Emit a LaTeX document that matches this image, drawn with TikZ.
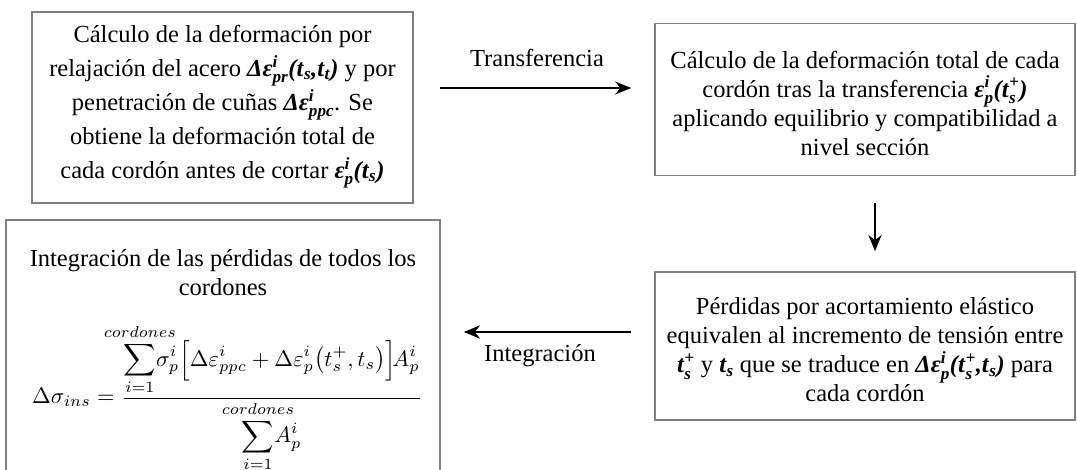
\documentclass[tikz,border=0pt]{standalone}
\usepackage{amsmath}
\usepackage{graphicx}
\usepackage{fontspec}
\setmainfont{Liberation Serif}
\usetikzlibrary{arrows.meta,calc}
\definecolor{boxgray}{RGB}{128,128,128}
\newcommand{\bi}[1]{\textbf{\textit{#1}}}
\newcommand{\ssup}[2]{$^{\bi{#1}}_{\bi{#2}}$}
\newcommand{\lsub}[1]{$_{\bi{#1}}$}
\newcommand{\lsubsup}[2]{$_{\bi{#1}}^{\bi{#2}}$}
\newcommand{\clapcord}{\makebox[0pt]{$\scriptstyle cordones$}}
\begin{document}
\begin{tikzpicture}[x=1pt,y=-1pt,
  box/.style={draw=boxgray, line width=1.6pt, inner sep=0pt},
  txt/.style={align=center, inner sep=0pt, font=\fontsize{24.5}{29}\selectfont},
  arr/.style={line width=2.4pt, -{Stealth[length=16pt,width=13pt,inset=5pt]}},
  lbl/.style={font=\fontsize{24.5}{29}\selectfont, align=center, inner sep=0pt}]
\clip (0,0) rectangle (1077,470);
\fill[white] (0,0) rectangle (1077,470);

% top left
\node[box, minimum width=381pt, minimum height=191pt] (box1) at (222.5,107.5) {};
\node[txt, font=\fontsize{24.5}{34}\selectfont] (t1) at (222.5,106.5)
{Cálculo de la deformación por\\
relajación del acero \bi{Δε}\ssup{i}{pr}\bi{(t}\lsub{s}\bi{,t}\lsub{t}\bi{)} y por\\
penetración de cuñas \bi{Δε}\ssup{i}{ppc}. Se\\
obtiene la deformación total de\\
cada cordón antes de cortar \bi{ε}\ssup{i}{p}\bi{(t}\lsub{s}\bi{)}};

% top right
\node[box, minimum width=420pt, minimum height=152pt] (box2) at (865,99.5) {};
\node[txt] (t2) at (865,103)
{Cálculo de la deformación total de cada\\
cordón tras la transferencia \bi{ε}\ssup{i}{p}\bi{(t}\lsubsup{s}{+}\bi{)}\\
aplicando equilibrio y compatibilidad a\\
nivel sección};

% bottom right
\node[box, minimum width=420pt, minimum height=148pt] (box4) at (865,346) {};
\node[txt] (t4) at (865,350)
{Pérdidas por acortamiento elástico\\
equivalen al incremento de tensión entre\\
\bi{t}\lsubsup{s}{+} y \bi{t}\lsub{s} que se traduce en \bi{Δε}\ssup{i}{p}\bi{(t}\lsubsup{s}{+}\bi{,t}\lsub{s}\bi{)} para\\
cada cordón};

% bottom left
\node[box, minimum width=434pt, minimum height=270pt] (box3) at (223,355) {};
\node[lbl] (t3) at (223,273) {Integración de las pérdidas de todos los\\cordones};
\node[inner sep=0pt, anchor=west] (f3) at (32,398) {\scalebox{2.25}{$\displaystyle \Delta\sigma_{ins} = \frac{\displaystyle\sum_{i=1}^{\clapcord}\!\sigma_p^i\Bigl[\Delta\varepsilon_{ppc}^i+\Delta\varepsilon_p^i\bigl(t_s^+,t_s\bigr)\Bigr]\!A_p^i}{\displaystyle\sum_{i=1}^{\clapcord}\!A_p^i}$}};

% connectors
\draw[arr, shorten <=26pt, shorten >=23pt] ([yshift=19.5pt]box1.east) -- ([yshift=19.5pt]box1.east -| box2.west);
\node[lbl] (l1) at (537,58) {Transferencia};

\draw[arr, shorten <=27pt, shorten >=20pt] ([xshift=10pt]box2.south) -- ([xshift=10pt]box4.north);

\draw[arr, shorten <=23pt, shorten >=23pt] ([yshift=14pt]box4.west) -- ([yshift=14pt]box4.west -| box3.east);
\node[lbl] (l2) at (540,356) {Integración};
\end{tikzpicture}
\end{document}
